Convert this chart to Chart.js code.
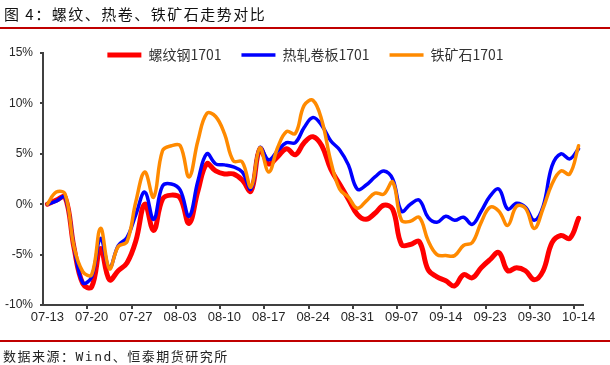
<!DOCTYPE html>
<html>
<head>
<meta charset="utf-8">
<script src="https://cdn.jsdelivr.net/npm/chart.js@4.4.0/dist/chart.umd.min.js"></script>
<style>
  body { margin: 0; background: #fff; }
  #wrap { position: relative; width: 610px; height: 365px; overflow: hidden; }
  #chart { position: absolute; left: 0; top: 0; }
  .title { position: absolute; left: 4px; top: 3px; font-size: 15px; line-height: 22px; letter-spacing: 1.5px;
           font-family: 'Noto Sans CJK SC', sans-serif; color: #111; white-space: nowrap; }
  .rule { position: absolute; left: 0; width: 610px; height: 2px; background: #c00000; }
  .source { position: absolute; left: 3px; top: 348px; font-size: 13px; line-height: 18px; letter-spacing: 1.5px;
            font-family: 'DejaVu Sans Mono', 'Noto Sans CJK SC', monospace; color: #222; white-space: nowrap; }
</style>
</head>
<body>
<div id="wrap">
  <canvas id="chart" width="610" height="365"></canvas>
  <div class="title">图 4：螺纹、热卷、铁矿石走势对比</div>
  <div class="rule" style="top:27px"></div>
  <div class="rule" style="top:340px"></div>
  <div class="source">数据来源：Wind、恒泰期货研究所</div>
</div>
<script>
// trading days, 2016-07-13 .. 2016-10-14
const dates = [
  '07-13','07-14','07-15','07-18','07-19','07-20','07-21','07-22','07-25','07-26',
  '07-27','07-28','07-29','08-01','08-02','08-03','08-04','08-05','08-08','08-09',
  '08-10','08-11','08-12','08-15','08-16','08-17','08-18','08-19','08-22','08-23',
  '08-24','08-25','08-26','08-29','08-30','08-31','09-01','09-02','09-05','09-06',
  '09-07','09-08','09-09','09-12','09-13','09-14','09-19','09-20','09-21','09-22',
  '09-23','09-26','09-27','09-28','09-29','09-30','10-10','10-11','10-12','10-13',
  '10-14'
];

// 螺纹钢1701, %
const rebar = [
  0, 0.4, 0.7, -4.3, -7.9, -8.2, -4.4, -7.5, -6.6, -5.8,
  -3.6, 0.0, -2.6, 0.5, 0.9, 0.6, -1.9, 1.3, 4.0, 3.3,
  3.0, 3.0, 2.4, 1.3, 5.5, 4.0, 4.7, 5.5, 4.9, 6.1,
  6.7, 5.8, 3.5, 2.0, 0.5, -1.0, -1.5, -0.9, -0.1, -0.5,
  -4.0, -4.0, -3.7, -6.5, -7.2, -7.6, -8.1, -7.0, -7.3, -6.3,
  -5.5, -4.8, -6.6, -6.3, -6.6, -7.5, -6.6, -3.8, -3.1, -3.4,
  -1.4
];

// 热轧卷板1701, %
const hotCoil = [
  0, 0.3, 0.7, -4.2, -7.8, -7.2, -3.4, -6.3, -4.1, -3.3,
  -1.0, 1.2, -1.5, 1.8, 2.0, 1.4, -1.2, 2.3, 5.0, 4.0,
  3.9, 3.7, 3.2, 1.5, 5.6, 4.4, 5.3, 6.1, 6.1, 7.6,
  8.6, 7.8, 6.3, 5.4, 3.9, 1.5, 1.9, 2.7, 3.3, 2.5,
  -0.7, 0.0, 0.4, -1.3, -1.8, -1.2, -1.6, -1.3, -2.0, -0.7,
  0.8, 1.5, -0.5, 0.1, -0.3, -1.6, -0.2, 3.8, 5.0, 4.5,
  5.5
];

// 铁矿石1701, %
const ironOre = [
  0, 1.2, 1.0, -4.2, -6.7, -7.0, -2.4, -6.4, -4.2, -3.7,
  0.3, 3.2, 0.7, 5.3, 5.8, 5.8, 2.7, 6.3, 9.0, 8.7,
  7.0, 4.3, 4.2, 1.7, 5.6, 3.2, 5.6, 7.2, 7.0, 9.8,
  10.3, 8.3, 4.3, 1.5, 0.7, -0.4, 0.3, 1.1, 1.0, 2.2,
  -1.6, -1.7, -1.3, -3.6, -5.0, -5.1, -5.1, -4.1, -3.8, -1.8,
  -0.3, -0.7, -2.1, -0.2, -0.4, -2.4, -0.4, 2.0, 3.3, 3.0,
  5.8
];

const yTicks = [-10, -5, 0, 5, 10, 15];

const axisColor = '#404040';
const tickFont = { family: "'Liberation Sans', Arial, sans-serif", size: 12 };

// legend overlaps the top of the plot, like the Excel original
const legendInside = {
  id: 'legendInside',
  afterLayout(chart) {
    const lg = chart.legend;
    lg.top = chart.chartArea.top - 25;
    lg.bottom = lg.top + lg.height;
    lg.left += 14;
    lg.right += 14;
  }
};

new Chart(document.getElementById('chart'), {
  type: 'line',
  data: {
    labels: dates,
    datasets: [
      { label: '螺纹钢1701', data: rebar, borderColor: '#ff0000', backgroundColor: '#ff0000',
        borderWidth: 5, pointBorderWidth: 5, order: 3 },
      { label: '热轧卷板1701', data: hotCoil, borderColor: '#0000ff', backgroundColor: '#0000ff',
        borderWidth: 3.5, pointBorderWidth: 3.5, order: 2 },
      { label: '铁矿石1701', data: ironOre, borderColor: '#ff8a00', backgroundColor: '#ff8a00',
        borderWidth: 3.5, pointBorderWidth: 3.5, order: 1 }
    ]
  },
  options: {
    responsive: false,
    animation: false,
    devicePixelRatio: 1,
    layout: { padding: { top: 9, right: 27, bottom: 30, left: 0 } },
    elements: {
      point: { radius: 0, hoverRadius: 0 },
      line: { tension: 0.4, fill: false, borderCapStyle: 'round', borderJoinStyle: 'round' }
    },
    plugins: {
      tooltip: { enabled: false },
      legend: {
        position: 'top',
        labels: {
          usePointStyle: true,
          pointStyle: 'line',
          pointStyleWidth: 34,
          padding: 20,
          color: '#333',
          font: { family: "'Noto Sans CJK SC', sans-serif", size: 14 },
          sort: (a, b) => a.datasetIndex - b.datasetIndex
        }
      }
    },
    scales: {
      x: {
        type: 'category',
        offset: true,
        afterFit: s => { s.height = 30; },
        border: { display: true, color: axisColor, width: 2 },
        grid: {
          offset: true,
          drawOnChartArea: false,
          drawTicks: true,
          tickLength: 4,
          lineWidth: 2,
          color: ctx => (ctx.index > 0 && ctx.index % 5 === 0) ? axisColor : 'rgba(0,0,0,0)'
        },
        ticks: {
          autoSkip: false,
          maxRotation: 0,
          padding: 1,
          color: '#262626',
          font: { family: tickFont.family, size: 13 },
          callback: (v, i) => (i % 5 === 0 ? dates[i] : '')
        }
      },
      y: {
        min: yTicks[0],
        max: yTicks[yTicks.length - 1],
        afterFit: s => { s.width = 43; },
        afterBuildTicks: s => { s.ticks = yTicks.map(v => ({ value: v })); },
        border: { display: true, color: axisColor, width: 2 },
        grid: { drawOnChartArea: false, drawTicks: true, tickLength: 3, lineWidth: 2, color: axisColor },
        ticks: {
          padding: 7,
          color: '#262626',
          font: tickFont,
          callback: v => v + '%'
        }
      }
    }
  },
  plugins: [legendInside]
});
</script>
</body>
</html>
